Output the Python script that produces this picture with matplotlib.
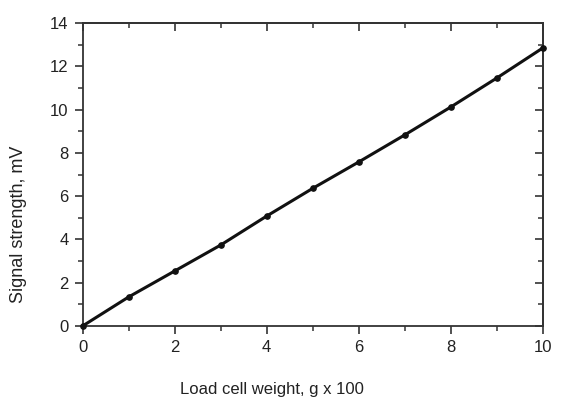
import matplotlib
matplotlib.use("Agg")
import matplotlib.pyplot as plt
from matplotlib.ticker import MultipleLocator

plt.rcParams['font.family'] = ['Liberation Sans', 'DejaVu Sans']

weight = [0, 1, 2, 3, 4, 5, 6, 7, 8, 9, 10]
signal = [0.0, 1.34, 2.54, 3.74, 5.08, 6.36, 7.58, 8.83, 10.12, 11.46, 12.85]

fig = plt.figure(figsize=(5.66, 3.98), dpi=100)
ax = fig.add_axes([0.146, 0.181, 0.813, 0.761])

ax.plot(weight, signal, color='#111111', lw=2.2, marker='o', ms=3.8,
        clip_on=False, zorder=3)

ax.set_xlim(0, 10)
ax.set_ylim(0, 14)
ax.xaxis.set_major_locator(MultipleLocator(2))
ax.xaxis.set_minor_locator(MultipleLocator(1))
ax.yaxis.set_major_locator(MultipleLocator(2))
ax.yaxis.set_minor_locator(MultipleLocator(1))

for s in ax.spines.values():
    s.set_linewidth(1.3)
    s.set_color('#333333')

ax.tick_params(which='major', direction='out', length=6, width=1.2,
               labelsize=12, colors='#333333', labelcolor='#222222', pad=4)
ax.tick_params(which='minor', direction='out', length=3.5, width=1.1,
               colors='#333333')

# mirrored ticks on top and right pointing inward
top = ax.secondary_xaxis('top')
top.xaxis.set_major_locator(MultipleLocator(2))
top.xaxis.set_minor_locator(MultipleLocator(1))
top.tick_params(which='major', direction='in', length=6, width=1.2,
                labeltop=False, colors='#333333')
top.tick_params(which='minor', direction='in', length=3.5, width=1.1,
                colors='#333333')
right = ax.secondary_yaxis('right')
right.yaxis.set_major_locator(MultipleLocator(2))
right.yaxis.set_minor_locator(MultipleLocator(1))
right.tick_params(which='major', direction='in', length=6, width=1.2,
                  labelright=False, colors='#333333')
right.tick_params(which='minor', direction='in', length=3.5, width=1.1,
                  colors='#333333')
for sa in (top, right):
    for s in sa.spines.values():
        s.set_linewidth(1.3)
        s.set_color('#333333')

ax.set_xlabel('Load cell weight, g x 100', fontsize=12, color='#222222')
ax.set_ylabel('Signal strength, mV', fontsize=13, color='#222222')
ax.xaxis.set_label_coords(0.412, -0.185)
ax.yaxis.set_label_coords(-0.12, 0.337)

fig.savefig('out.png', dpi=100)
